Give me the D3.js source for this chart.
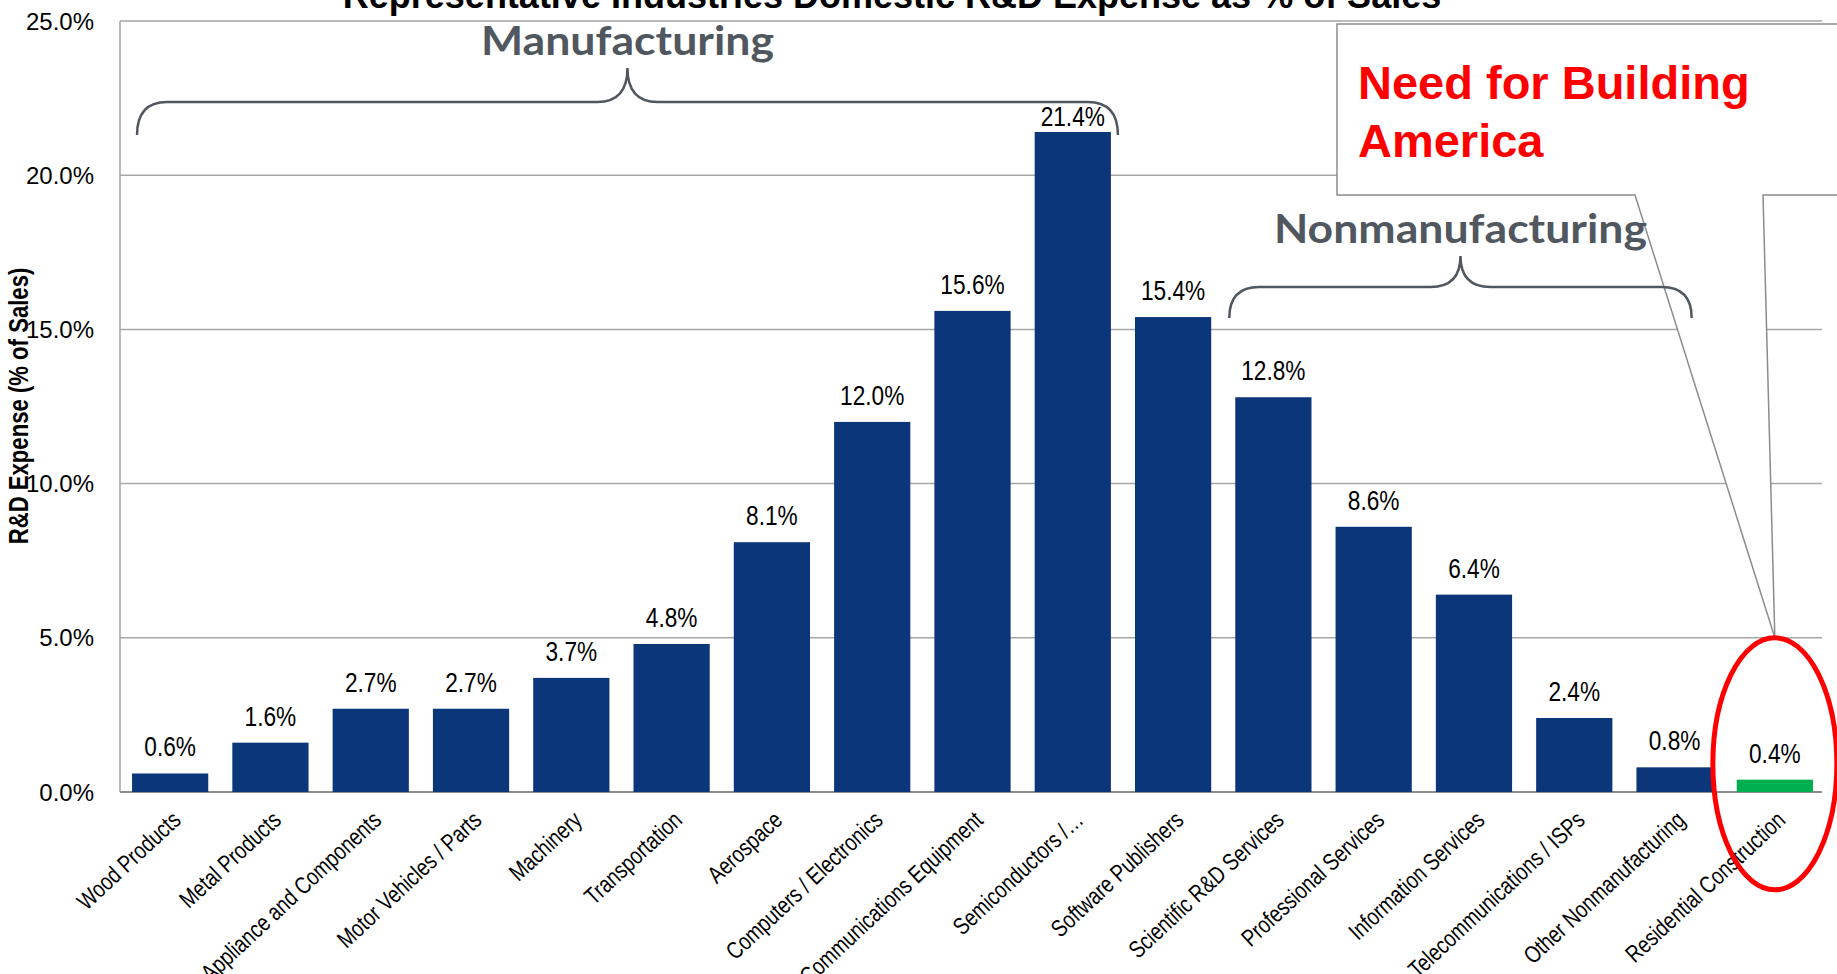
<!DOCTYPE html>
<html>
<head>
<meta charset="utf-8">
<script src="https://cdn.jsdelivr.net/npm/d3@7/dist/d3.min.js"></script>
<style>
    body { margin: 0; background: #fff; }
    svg { display: block; }
</style>
</head>
<body>
<script>
// chart data
const categories = [
    'Wood Products', 'Metal Products', 'Appliance and Components', 'Motor Vehicles / Parts',
    'Machinery', 'Transportation', 'Aerospace', 'Computers / Electronics',
    'Communications Equipment', 'Semiconductors /\u2026', 'Software Publishers',
    'Scientific R&D Services', 'Professional Services', 'Information Services',
    'Telecommunications / ISPs', 'Other Nonmanufacturing', 'Residential Construction'
];
const values = [0.6, 1.6, 2.7, 2.7, 3.7, 4.8, 8.1, 12.0, 15.6, 21.4, 15.4, 12.8, 8.6, 6.4, 2.4, 0.8, 0.4];
const highlighted = ['Residential Construction'];
const yTicks = [0, 5, 10, 15, 20, 25];

const groupNames = ['Manufacturing', 'Nonmanufacturing'];
const groupFirst = ['Wood Products', 'Scientific R&D Services'];
const groupLast = ['Semiconductors /\u2026', 'Other Nonmanufacturing'];

const chartTitle = 'Representative Industries Domestic R&D Expense as % of Sales';
const yTitle = 'R&D Expense (% of Sales)';
const calloutLines = ['Need for Building', 'America'];

document.addEventListener('DOMContentLoaded', function() {
    const width = 1837;
    const height = 974;
    const font = '"Liberation Sans", Arial, sans-serif';

    const svg = d3.select('body').append('svg')
        .attr('width', width)
        .attr('height', height)
        .style('font-family', font);

    const x = d3.scaleBand()
        .domain(categories)
        .range([120, 1825])
        .paddingInner(0.24)
        .paddingOuter(0.12);

    const y = d3.scaleLinear()
        .domain([0, 25])
        .range([792, 21]);

    const data = categories.map((c, i) => ({ name: c, value: values[i] }));
    const cx = d => x(d) + x.bandwidth() / 2;

    // gridlines
    svg.append('g')
        .selectAll('line')
        .data(yTicks.filter(t => t > 0))
        .enter().append('line')
        .attr('x1', 120)
        .attr('x2', 1822)
        .attr('y1', d => y(d))
        .attr('y2', d => y(d))
        .attr('stroke', '#a6a6a6')
        .attr('stroke-width', 1.5);

    // callout box with pointer to the highlighted bar
    const hl = highlighted[0];
    const tipX = cx(hl);
    const tipY = y(5);
    const callout = [
        [1337, 24], [width + 10, 24], [width + 10, 195], [1763, 195],
        [tipX, tipY], [1635, 195], [1337, 195]
    ];
    svg.append('polygon')
        .attr('points', callout.map(p => p.join(',')).join(' '))
        .attr('fill', '#fff')
        .attr('stroke', '#8c8c8c')
        .attr('stroke-width', 1.5);

    svg.append('g')
        .selectAll('text')
        .data(calloutLines)
        .enter().append('text')
        .attr('x', 1358)
        .attr('y', (d, i) => 99 + i * 58)
        .attr('fill', '#ff0000')
        .attr('font-size', 47)
        .attr('font-weight', 'bold')
        .text(d => d);

    // axis lines
    svg.append('line')
        .attr('x1', 120).attr('x2', 120)
        .attr('y1', y(25)).attr('y2', y(0))
        .attr('stroke', '#a6a6a6')
        .attr('stroke-width', 1.5);

    svg.append('line')
        .attr('x1', 120).attr('x2', 1822)
        .attr('y1', y(0)).attr('y2', y(0))
        .attr('stroke', '#8c8c8c')
        .attr('stroke-width', 2);

    // y tick labels
    svg.append('g')
        .selectAll('text')
        .data(yTicks)
        .enter().append('text')
        .attr('x', 94)
        .attr('y', d => y(d))
        .attr('dy', '0.36em')
        .attr('text-anchor', 'end')
        .attr('font-size', 24)
        .attr('fill', '#000')
        .text(d => d.toFixed(1) + '%');

    // narrow bold axis title
    svg.append('text')
        .attr('transform', 'translate(28,406) rotate(-90) scale(0.82,1)')
        .attr('text-anchor', 'middle')
        .attr('font-size', 27)
        .attr('font-weight', 'bold')
        .text(yTitle);

    svg.append('text')
        .attr('x', 892)
        .attr('y', 8)
        .attr('text-anchor', 'middle')
        .attr('font-size', 36)
        .attr('font-weight', 'bold')
        .text(chartTitle);

    // bars
    svg.append('g')
        .selectAll('rect')
        .data(data)
        .enter().append('rect')
        .attr('x', d => x(d.name))
        .attr('y', d => y(d.value))
        .attr('width', x.bandwidth())
        .attr('height', d => y(0) - y(d.value))
        .attr('fill', d => highlighted.includes(d.name) ? '#00b050' : '#0b3679');

    // value labels (narrow face)
    const maxVal = d3.max(values);
    svg.append('g')
        .selectAll('text')
        .data(data)
        .enter().append('text')
        .attr('transform', d => `translate(${cx(d.name)},${y(d.value) - (d.value === maxVal ? 6 : 17)}) scale(0.84,1)`)
        .attr('text-anchor', 'middle')
        .attr('font-size', 27)
        .attr('fill', '#000')
        .text(d => d.value.toFixed(1) + '%');

    // category labels
    svg.append('g')
        .selectAll('text')
        .data(categories)
        .enter().append('text')
        .attr('transform', d => `translate(${cx(d) + 12},822) rotate(-43) scale(0.8,1)`)
        .attr('text-anchor', 'end')
        .attr('font-size', 24)
        .attr('fill', '#000')
        .text(d => d);

    // group braces
    const braceLayout = [
        { inL: 5, inR: 7, tip: 135, line: 102, peak: 68, label: 55, w: 293 },
        { inL: -6, inR: -21, tip: 318, line: 287, peak: 256, label: 243, w: 373 }
    ];

    function bracePath(x1, x2, b) {
        const xm = (x1 + x2) / 2;
        const r = 30;
        return `M${x1},${b.tip} Q${x1},${b.line} ${x1 + r},${b.line}` +
            ` L${xm - r},${b.line} Q${xm},${b.line} ${xm},${b.peak}` +
            ` Q${xm},${b.line} ${xm + r},${b.line}` +
            ` L${x2 - r},${b.line} Q${x2},${b.line} ${x2},${b.tip}`;
    }

    groupNames.forEach((g, i) => {
        const b = braceLayout[i];
        const x1 = x(groupFirst[i]) + b.inL;
        const x2 = x(groupLast[i]) + x.bandwidth() + b.inR;
        svg.append('path')
            .attr('d', bracePath(x1, x2, b))
            .attr('fill', 'none')
            .attr('stroke', '#50575f')
            .attr('stroke-width', 2.5);
        svg.append('text')
            .attr('x', (x1 + x2) / 2)
            .attr('y', b.label)
            .attr('text-anchor', 'middle')
            .attr('font-family', 'Lato, "Open Sans", sans-serif')
            .attr('font-weight', 'bold')
            .attr('font-size', 40)
            .attr('textLength', b.w)
            .attr('lengthAdjust', 'spacingAndGlyphs')
            .attr('fill', '#50575f')
            .text(g);
    });

    // red ellipse round the highlighted bar
    const ry = 126;
    svg.append('ellipse')
        .attr('cx', tipX)
        .attr('cy', tipY + ry)
        .attr('rx', 62)
        .attr('ry', ry)
        .attr('fill', 'none')
        .attr('stroke', '#ff0000')
        .attr('stroke-width', 5);
});
</script>
</body>
</html>
